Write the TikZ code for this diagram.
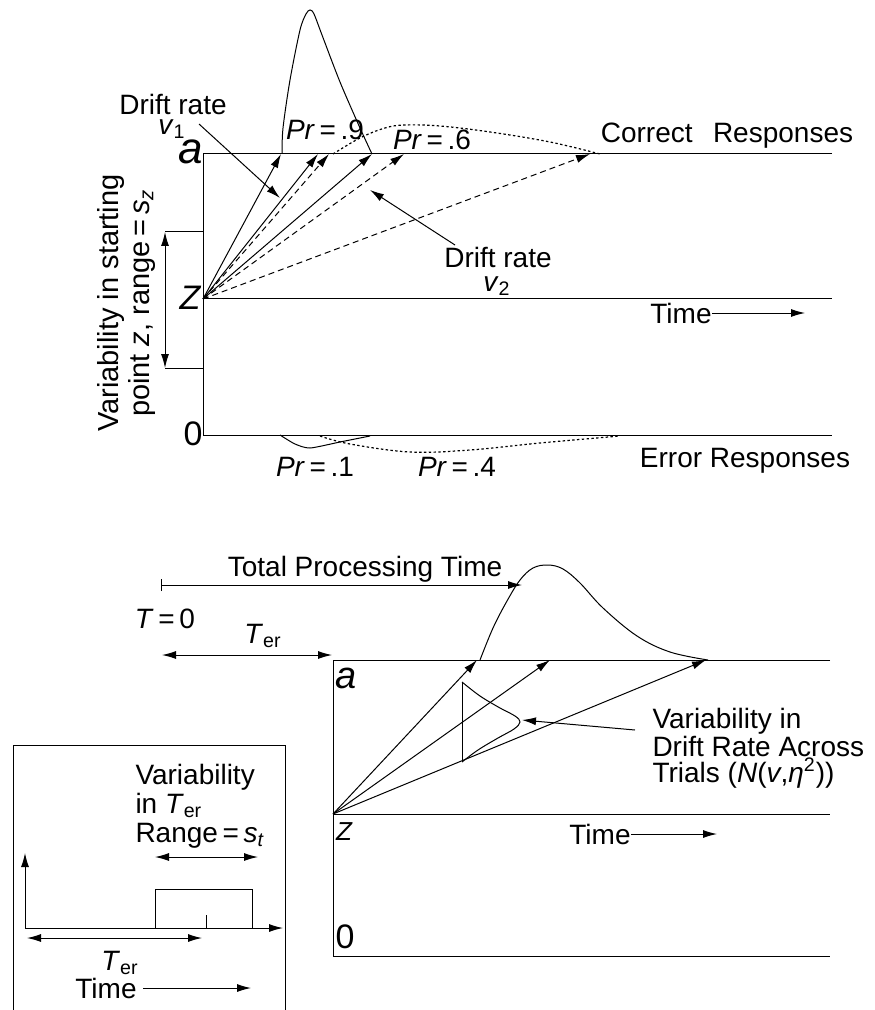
\documentclass[tikz,border=0pt]{standalone}
\usepackage{fontspec}
\setmainfont{Liberation Sans}
\usetikzlibrary{arrows.meta,positioning}

\begin{document}
\begin{tikzpicture}[
  x=0.5pt, y=-0.5pt, line width=0.5pt,
  lbl/.style={inner sep=0pt, font=\fontsize{14}{15}\selectfont},
  axlbl/.style={inner sep=0pt, font=\fontsize{17}{18}\selectfont},
  multi/.style={inner sep=0pt, align=left, font=\fontsize{14}{13}\selectfont},
  arr/.style={-{Latex[length=7pt,width=4pt]}},
  darr/.style={{Latex[length=7pt,width=4pt]}-{Latex[length=7pt,width=4pt]}},
  dsh/.style={arr, dash pattern=on 3pt off 2pt},
  dots/.style={dash pattern=on 1.2pt off 1.2pt, line width=0.6pt},
]
\useasboundingbox (0,0) rectangle (874,1010);

% Upper panel: boundaries
\coordinate (aL) at (203,154); \coordinate (aR) at (832,154);
\coordinate (zL) at (203,299); \coordinate (zR) at (832,299);
\coordinate (oL) at (203,435); \coordinate (oR) at (832,435);
\draw (aR) -- (aL) -- (oL) -- (oR);
\draw (zL) -- (zR);

\node[axlbl, font=\fontsize{22}{24}\selectfont\itshape] (atop) at (191,152) {a};
\node[axlbl, font=\fontsize{17}{18}\selectfont\itshape] (ztop) at (190,298) {Z};
\node[axlbl] (otop) at (193,434) {0};

% starting point range
\coordinate (sz1) at (165,232); \coordinate (sz2) at (165,368);
\draw (sz1) -- (203,232);
\draw (sz2) -- (203,368);
\draw[darr] (sz1) -- (sz2);
\node[lbl, rotate=90, align=center, font=\fontsize{14.5}{15.5}\selectfont] (szlab) at (126,303)
  {Variability in starting\\point \textit{z}, range\,=\,\textit{s}\textsubscript{\textit{z}}};

% drift rates
\coordinate (t1) at (281,154);
\coordinate (t2) at (318,154);
\coordinate (t3) at (329,154);
\coordinate (t4) at (372,154);
\coordinate (t5) at (404,154);
\coordinate (t6) at (590,154);
\draw[arr] (zL) -- (t1);
\draw[arr] (zL) -- (t2);
\draw[dsh] (zL) -- (t3);
\draw[arr] (zL) -- (t4);
\draw[dsh] (zL) -- (t5);
\draw[dsh] (zL) -- (t6);

% RT distributions
\draw plot[smooth, tension=0.5] coordinates {(282,154) (283,128) (290,80) (300,30) (306,14) (310,10) (314,14) (322,35) (340,82) (360,128) (372,154)};
\draw[dots] plot[smooth, tension=0.6] coordinates {(333,154) (360,138) (385,128) (405,125) (440,126) (490,132) (550,142) (600,154)};
\draw plot[smooth, tension=0.4] coordinates {(280,435) (295,444) (310,448) (340,442) (370,436)};
\draw[dots] plot[smooth, tension=0.6] coordinates {(320,436) (350,444) (410,452) (470,450) (540,443) (620,436)};

\node[lbl] (pr9) at (325,130) {\textit{Pr}\,=\,.9};
\node[lbl] (pr6) at (432,140) {\textit{Pr}\,=\,.6};
\node[lbl] (pr1) at (315,467) {\textit{Pr}\,=\,.1};
\node[lbl] (pr4) at (457,467) {\textit{Pr}\,=\,.4};
\node[lbl] (corr) at (727,136) {Correct\hspace{0.45em} Responses};
\node[lbl] (err) at (745,461) {Error Responses};

\node[lbl] (dr1) at (173,104) {Drift rate};
\node[lbl] (v1) at (172,129) {\textit{v}\textsubscript{1}};
\coordinate (p1s) at (199,124); \coordinate (p1e) at (280,198);
\draw[arr] (p1s) -- (p1e);

\node[lbl] (dr2) at (498,257) {Drift rate};
\node[lbl] (v2) at (497,286) {\textit{v}\textsubscript{2}};
\coordinate (p2s) at (455,245); \coordinate (p2e) at (370,190);
\draw[arr] (p2s) -- (p2e);

\node[lbl] (time1) at (681,313) {Time};
\coordinate (time1e) at (805,313);
\draw[arr] (time1.east) -- (time1.east -| time1e);

% Lower panel: processing times
\node[lbl] (tpt) at (365,569) {Total Processing Time};
\coordinate (tp0) at (161,585); \coordinate (tp1) at (522,585);
\draw[{Bar[width=6pt]}-{Latex[length=7pt,width=4pt]}] (tp0) -- (tp1);
\node[lbl] (tzero) at (165,619) {\textit{T}\,=\,0};
\node[lbl] (ter1) at (263,636) {\textit{T}\textsubscript{er}};
\coordinate (te0) at (162,655); \coordinate (te1) at (332,655);
\draw[darr] (te0) -- (te1);

\coordinate (bA) at (333,660); \coordinate (bAr) at (830,660);
\coordinate (bZ) at (333,814); \coordinate (bZr) at (830,814);
\coordinate (bO) at (333,956); \coordinate (bOr) at (830,956);
\draw (bAr) -- (bA) -- (bO) -- (bOr);
\draw (bZ) -- (bZr);
\node[axlbl, font=\fontsize{19}{20}\selectfont\itshape] (abot) at (346,678) {a};
\node[axlbl, font=\fontsize{13}{14}\selectfont\itshape] (zbot) at (344,832) {Z};
\node[axlbl] (obot) at (345,937) {0};

\coordinate (u1) at (477,660);
\coordinate (u2) at (550,660);
\coordinate (u3) at (706,660);
\draw[arr] (bZ) -- (u1);
\draw[arr] (bZ) -- (u2);
\draw[arr] (bZ) -- (u3);

\draw plot[smooth, tension=0.6] coordinates {(480,660) (493,628) (507,601) (520,580) (533,568) (548,565) (563,569) (580,583) (603,608) (637,636) (670,652) (708,660)};
\draw (462,682) -- (462,762);
\draw plot[smooth, tension=0.6] coordinates {(462,682) (480,696) (500,708) (515,716) (520,722) (514,729) (498,738) (478,750) (462,762)};

\node[multi, anchor=west] (dvlab) at (652,748) {Variability in\\Drift Rate Across\\Trials (\textit{N}(\textit{v},\textit{η}\textsuperscript{2}))};
\coordinate (dvs) at (635,730); \coordinate (dve) at (522,720);
\draw[arr] (dvs) -- (dve);

\node[lbl] (time2) at (600,834) {Time};
\coordinate (time2e) at (717,834);
\draw[arr] (time2.east) -- (time2.east -| time2e);

% Inset: non-decision time
\draw (13,1012) -- (13,745) -- (285,745) -- (285,1012);
\coordinate (io) at (25,928);
\coordinate (iy) at (25,853); \coordinate (ix) at (283,928);
\draw[arr] (io) -- (iy);
\draw[arr] (io) -- (ix);
\draw (155,928) -- (155,889) -- (252,889) -- (252,928);
\draw (206,915) -- (206,928);
\node[multi, anchor=west, font=\fontsize{14}{14.5}\selectfont] (stlab) at (135,806) {Variability\\in \textit{T}\textsubscript{er}\\Range\,=\,\textit{s}\textsubscript{\textit{t}}};
\coordinate (st0) at (155,857); \coordinate (st1) at (258,857);
\draw[darr] (st0) -- (st1);
\coordinate (it0) at (27,938); \coordinate (it1) at (202,938);
\draw[darr] (it0) -- (it1);
\node[lbl] (ter2) at (120,963) {\textit{T}\textsubscript{er}};
\node[lbl] (time3) at (106,988) {Time};
\coordinate (time3e) at (245,990);
\draw[arr] ([xshift=3pt]time3.east) -- ([xshift=3pt]time3.east -| time3e);

\end{tikzpicture}
\end{document}
